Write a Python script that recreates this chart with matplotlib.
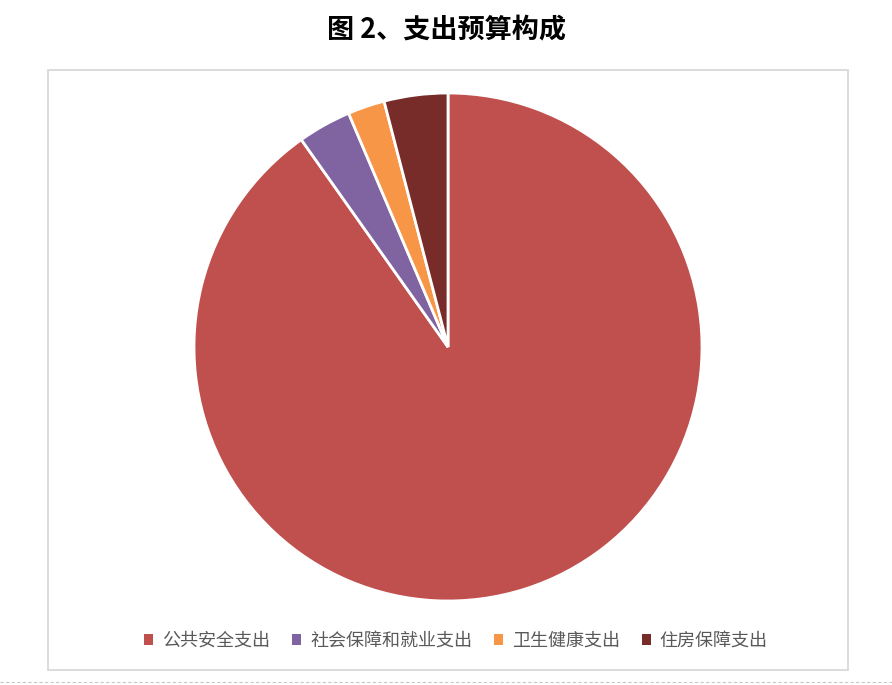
#!/usr/bin/env python3
"""图 2 支出预算构成 pie chart."""

import matplotlib
matplotlib.use("Agg")
import matplotlib.pyplot as plt
from matplotlib.patches import Patch, Rectangle
from matplotlib.lines import Line2D

plt.rcParams["font.family"] = ["Noto Sans CJK SC", "DejaVu Sans"]

categories = ["公共安全支出", "社会保障和就业支出", "卫生健康支出", "住房保障支出"]
shares = [90.2, 3.4, 2.35, 4.05]
colours = ["#C0504D", "#8064A2", "#F79646", "#772C2A"]

W, H = 892, 685
fig = plt.figure(figsize=(W / 100, H / 100), dpi=100)

# chart frame and dashed separator under it
fig.patches.append(Rectangle((48 / W, 1 - 669.5 / H), 800 / W, 599.5 / H,
                             transform=fig.transFigure, fill=False,
                             edgecolor="#D9D9D9", linewidth=1.3))
fig.lines.append(Line2D([0, 1], [1 - 682 / H] * 2, transform=fig.transFigure,
                        color="#C8C8C8", linewidth=0.8, linestyle=(0, (3, 2))))

fig.text(447 / W, 1 - 29 / H, "图 2、支出预算构成", ha="center", va="center",
         fontsize=19.5, fontweight="black", color="black")

cx, cy, r = 448, 347, 254
ax = fig.add_axes([(cx - r) / W, 1 - (cy + r) / H, 2 * r / W, 2 * r / H])
ax.pie(shares, colors=colours, startangle=90, counterclock=False,
       wedgeprops={"edgecolor": "white", "linewidth": 2.0})
ax.set_xlim(-1, 1)
ax.set_ylim(-1, 1)
ax.set_aspect("equal")
ax.axis("off")

handles = [Patch(facecolor=c, edgecolor="none") for c in colours]
fig.legend(handles, categories, loc="center", ncol=4,
           bbox_to_anchor=(456 / W, 1 - 641 / H), frameon=False,
           fontsize=13, labelcolor="#595959", handlelength=0.5,
           handleheight=0.5, handletextpad=0.5, columnspacing=1.2)

fig.savefig("out.png", dpi=100)
